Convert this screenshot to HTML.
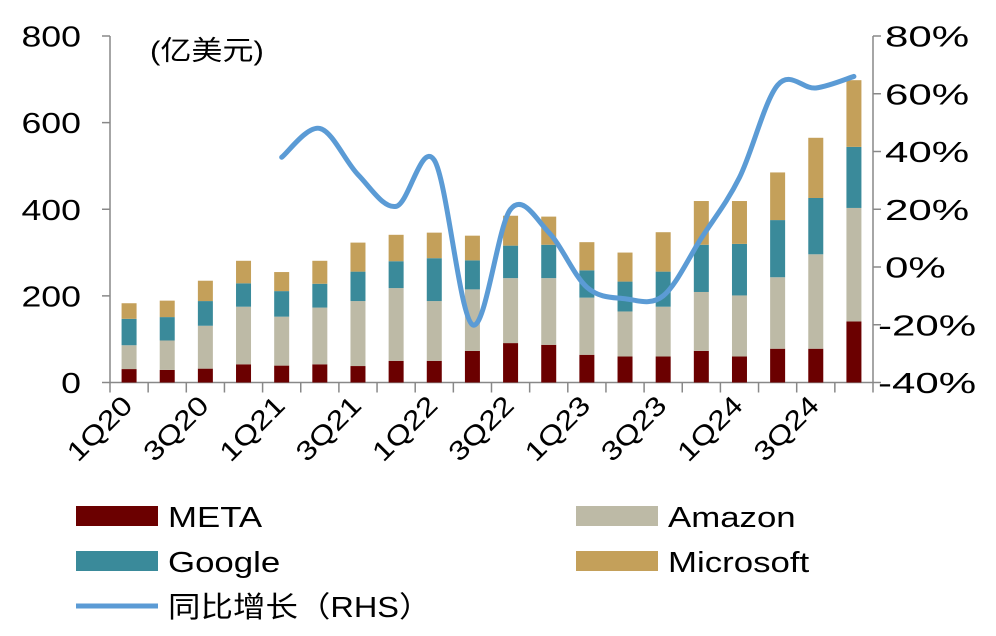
<!DOCTYPE html>
<html><head><meta charset="utf-8"><style>
body{margin:0;background:#fff;}
svg{display:block;font-family:"Liberation Sans","Noto Sans CJK SC",sans-serif;}
</style></head><body>
<svg id="c" width="996" height="636" viewBox="0 0 996 636"></svg>
<script>
const categories=["1Q20","2Q20","3Q20","4Q20","1Q21","2Q21","3Q21","4Q21","1Q22","2Q22","3Q22","4Q22","1Q23","2Q23","3Q23","4Q23","1Q24","2Q24","3Q24","4Q24"];
const meta=[31,29,32,42,39,42,38,50,50,73,91,87,64,60,60,73,60,78,78,141];
const amazon=[55,68,99,133,113,131,150,168,138,142,150,154,132,104,115,136,141,165,218,262];
const google=[61,54,57,54,59,55,68,62,99,67,75,77,63,69,81,109,119,132,130,141];
const microsoft=[36,38,47,52,44,53,67,61,59,57,69,65,65,67,91,101,99,110,139,154];
const growth=[null,null,null,null,38,48,32,21,37,-20,20,12,-7,-11,-10,10,31,63,62,66];
const leftTicks=[0,200,400,600,800];
const rightTicks=["-40%","-20%","0%","20%","40%","60%","80%"];
const rightTickVals=[-40,-20,0,20,40,60,80];

const svg=document.getElementById('c');
const NS='http://www.w3.org/2000/svg';
const X0=110,X1=873,Y0=382.5,Y1=36;
const band=(X1-X0)/categories.length;
const xc=i=>X0+(i+0.5)*band;
const yL=v=>Y0-(v/800)*(Y0-Y1);
const yR=v=>Y0-((v+40)/120)*(Y0-Y1);
function mk(t,a,p){const e=document.createElementNS(NS,t);for(const k in a)e.setAttribute(k,a[k]);(p||svg).appendChild(e);return e;}
function stretch(t,f){const w=t.getComputedTextLength();t.setAttribute('textLength',w*f);t.setAttribute('lengthAdjust','spacingAndGlyphs');}

// axes
const ax=mk('line',{x1:X0,y1:Y1,x2:X0,y2:Y0,stroke:'#888','stroke-width':1.5});

const ax2=mk('line',{x1:X1,y1:Y1,x2:X1,y2:Y0,stroke:'#888','stroke-width':1.5});

const ax3=mk('line',{x1:X0,y1:Y0,x2:X1,y2:Y0,stroke:'#888','stroke-width':1.5});

leftTicks.forEach(v=>{
  mk('line',{x1:X0-8,y1:yL(v),x2:X0,y2:yL(v),stroke:'#888','stroke-width':1.5});
  const t=mk('text',{x:81,y:yL(v)+10.5,'text-anchor':'end','font-size':29,fill:'#000'});t.textContent=v;
  
  stretch(t,1.23);
});
rightTickVals.forEach((v,i)=>{
  mk('line',{x1:X1,y1:yR(v),x2:X1+8,y2:yR(v),stroke:'#888','stroke-width':1.5});
  const t=mk('text',{x:v<0?878:885,y:yR(v)+10.5,'font-size':29,fill:'#000'});t.textContent=rightTicks[i];
  
  stretch(t,1.45);
});
for(let i=0;i<=categories.length;i++){mk('line',{x1:X0+i*band,y1:Y0,x2:X0+i*band,y2:Y0+10,stroke:'#888','stroke-width':1.5});}
categories.forEach((c,i)=>{
  if(i%2)return;
  const x=xc(i)+5,y=407;
  const t=mk('text',{x:x,y:y,'text-anchor':'end','font-size':27,fill:'#000',transform:`rotate(-45 ${x} ${y})`});t.textContent=c;
  
  stretch(t,1.2);
});
const u=mk('text',{x:150,y:60,'font-size':27,fill:'#000'});u.textContent='(亿美元)';

stretch(u,1.15);

// bars
const series=[[meta,'#6b0000','meta'],[amazon,'#bdbaa6','amazon'],[google,'#3a8a9a','google'],[microsoft,'#c4a05a','microsoft']];
const bw=15;
categories.forEach((c,i)=>{
  let acc=0;
  series.forEach(([arr,col,nm])=>{
    const v=arr[i];
    const r=mk('rect',{x:xc(i)-bw/2,y:yL(acc+v),width:bw,height:yL(acc)-yL(acc+v),fill:col});
    
    acc+=v;
  });
});

// line (catmull-rom smoothed)
const pts=[];growth.forEach((g,i)=>{if(g!==null)pts.push([xc(i),yR(g)]);});
let d=`M${pts[0][0]},${pts[0][1]}`;
for(let i=0;i<pts.length-1;i++){
  const p0=pts[Math.max(0,i-1)],p1=pts[i],p2=pts[i+1],p3=pts[Math.min(pts.length-1,i+2)];
  const c1=[p1[0]+(p2[0]-p0[0])/6,p1[1]+(p2[1]-p0[1])/6];
  const c2=[p2[0]-(p3[0]-p1[0])/6,p2[1]-(p3[1]-p1[1])/6];
  d+=` C${c1[0]},${c1[1]} ${c2[0]},${c2[1]} ${p2[0]},${p2[1]}`;
}
const ln=mk('path',{d:d,fill:'none',stroke:'#5b9bd5','stroke-width':5,'stroke-linecap':'round'});


// legend
const leg=[[76,516,'#6b0000','META'],[576,516,'#bdbaa6','Amazon'],[76,561,'#3a8a9a','Google'],[576,561,'#c4a05a','Microsoft']];
leg.forEach(([x,y,col,lab])=>{
  const g=mk('g',{});
  
  mk('rect',{x:x,y:y-10,width:82,height:20,fill:col},g);
  const t=mk('text',{x:x+92,y:y+11,'font-size':29,fill:'#000'},g);t.textContent=lab;
  stretch(t,1.2);
});
const g=mk('g',{});

mk('line',{x1:76,y1:606,x2:158,y2:606,stroke:'#5b9bd5','stroke-width':5},g);
const t=mk('text',{x:168,y:617,'font-size':29,fill:'#000'},g);t.textContent='同比增长（RHS）';
stretch(t,1.12);
</script>
</body></html>
